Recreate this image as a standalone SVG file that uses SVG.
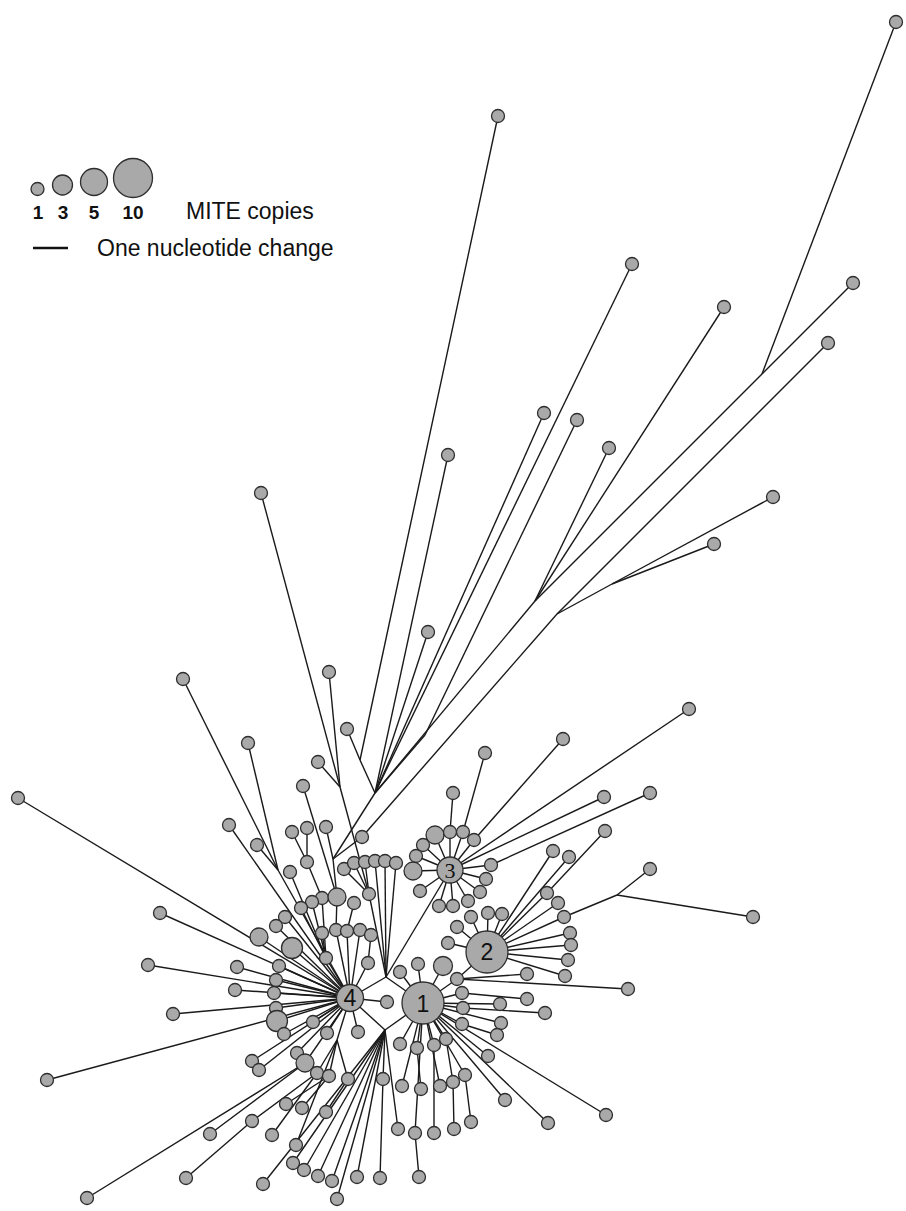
<svg xmlns="http://www.w3.org/2000/svg" width="906" height="1211" viewBox="0 0 906 1211">
<style>
.s{fill:#a9a9a9;stroke:#2e2e2e;stroke-width:1.3}
#connectors line{stroke:#1a1a1a;stroke-width:1.4}
.t{font-family:"Liberation Sans",Arial,sans-serif;fill:#111}
.hl{font-family:"Liberation Sans",Arial,sans-serif;font-size:23px;fill:#111;text-anchor:middle}
</style>
<rect width="906" height="1211" fill="#fff"/>
<g id="legend">
<circle class="s" cx="37.5" cy="189" r="6.5"/><circle class="s" cx="62.5" cy="185" r="10"/><circle class="s" cx="94" cy="182" r="13.5"/><circle class="s" cx="133" cy="178" r="19.5"/>
<text class="t" x="38" y="219" font-size="19" font-weight="bold" text-anchor="middle">1</text>
<text class="t" x="63" y="219" font-size="19" font-weight="bold" text-anchor="middle">3</text>
<text class="t" x="94" y="219" font-size="19" font-weight="bold" text-anchor="middle">5</text>
<text class="t" x="133" y="219" font-size="19" font-weight="bold" text-anchor="middle">10</text>
<text class="t" x="186" y="219" font-size="23">MITE copies</text>
<line x1="33" y1="248" x2="68" y2="248" stroke="#111" stroke-width="2.5"/>
<text class="t" x="97" y="256" font-size="23">One nucleotide change</text>
</g>
<g id="connectors">
<line x1="896" y1="22" x2="762" y2="374"/><line x1="853" y1="283" x2="762" y2="374"/><line x1="762" y1="374" x2="535" y2="601"/>
<line x1="724" y1="307" x2="535" y2="601"/><line x1="609" y1="448" x2="535" y2="601"/><line x1="535" y1="601" x2="375" y2="793"/>
<line x1="828" y1="343" x2="557" y2="614"/><line x1="773" y1="497" x2="612" y2="584"/><line x1="612" y1="584" x2="557" y2="614"/>
<line x1="714" y1="544" x2="612" y2="584"/><line x1="557" y1="614" x2="362" y2="837"/><line x1="362" y1="837" x2="333" y2="859"/>
<line x1="632" y1="264" x2="375" y2="793"/><line x1="544" y1="413" x2="375" y2="793"/><line x1="577" y1="420" x2="425" y2="735"/>
<line x1="425" y1="735" x2="375" y2="793"/><line x1="448" y1="455" x2="375" y2="793"/><line x1="428" y1="632" x2="375" y2="793"/>
<line x1="498" y1="116" x2="360" y2="760"/><line x1="347" y1="729" x2="360" y2="760"/><line x1="360" y1="760" x2="375" y2="793"/>
<line x1="375" y1="793" x2="333" y2="859"/>
<line x1="261" y1="493" x2="340" y2="787"/><line x1="329" y1="672" x2="340" y2="787"/><line x1="318" y1="762" x2="340" y2="787"/>
<line x1="340" y1="787" x2="369" y2="894"/><line x1="303" y1="786" x2="337" y2="897"/>
<line x1="183" y1="679" x2="278" y2="870"/><line x1="248" y1="743" x2="278" y2="870"/><line x1="257" y1="845" x2="278" y2="870"/>
<line x1="278" y1="870" x2="350" y2="998"/><line x1="18" y1="798" x2="350" y2="998"/><line x1="229" y1="825" x2="350" y2="998"/>
<line x1="292" y1="832" x2="307" y2="862"/><line x1="307" y1="828" x2="307" y2="862"/><line x1="326" y1="827" x2="333" y2="859"/>
<line x1="333" y1="859" x2="337" y2="897"/><line x1="307" y1="862" x2="322" y2="898"/><line x1="290" y1="872" x2="326" y2="958"/>
<line x1="344" y1="869" x2="369" y2="894"/><line x1="354" y1="863" x2="369" y2="894"/><line x1="365" y1="862" x2="369" y2="894"/>
<line x1="322" y1="898" x2="326" y2="958"/><line x1="312" y1="902" x2="326" y2="958"/><line x1="301" y1="908" x2="326" y2="958"/>
<line x1="369" y1="894" x2="386" y2="977"/><line x1="375" y1="861" x2="386" y2="977"/><line x1="385" y1="861" x2="386" y2="977"/><line x1="396" y1="863" x2="386" y2="977"/>
<line x1="337" y1="897" x2="336" y2="930"/><line x1="354" y1="903" x2="347" y2="931"/>
<line x1="336" y1="930" x2="350" y2="998"/><line x1="347" y1="931" x2="350" y2="998"/><line x1="360" y1="930" x2="350" y2="998"/>
<line x1="371" y1="935" x2="368" y2="963"/><line x1="368" y1="963" x2="350" y2="998"/><line x1="322" y1="933" x2="326" y2="958"/>
<line x1="326" y1="958" x2="350" y2="998"/><line x1="285" y1="917" x2="350" y2="998"/><line x1="276" y1="926" x2="350" y2="998"/>
<line x1="259" y1="937" x2="350" y2="998"/><line x1="292" y1="948" x2="350" y2="998"/><line x1="160" y1="913" x2="350" y2="998"/>
<line x1="148" y1="965" x2="350" y2="998"/><line x1="237" y1="967" x2="350" y2="998"/><line x1="279" y1="966" x2="350" y2="998"/>
<line x1="276" y1="980" x2="350" y2="998"/><line x1="235" y1="990" x2="350" y2="998"/><line x1="274" y1="993" x2="350" y2="998"/>
<line x1="276" y1="1008" x2="350" y2="998"/><line x1="173" y1="1014" x2="350" y2="998"/><line x1="277" y1="1021" x2="350" y2="998"/>
<line x1="284" y1="1034" x2="350" y2="998"/><line x1="313" y1="1022" x2="350" y2="998"/><line x1="327" y1="1033" x2="350" y2="998"/>
<line x1="358" y1="1032" x2="350" y2="998"/><line x1="47" y1="1080" x2="350" y2="998"/><line x1="252" y1="1061" x2="350" y2="998"/>
<line x1="259" y1="1070" x2="350" y2="998"/><line x1="297" y1="1053" x2="350" y2="998"/><line x1="305" y1="1063" x2="350" y2="998"/>
<line x1="337" y1="1040" x2="350" y2="998"/><line x1="317" y1="1073" x2="337" y2="1040"/><line x1="329" y1="1076" x2="337" y2="1040"/>
<line x1="348" y1="1079" x2="337" y2="1040"/><line x1="387" y1="1002" x2="350" y2="998"/>
<line x1="350" y1="998" x2="386" y2="977"/><line x1="386" y1="977" x2="423" y2="1003"/><line x1="350" y1="998" x2="385" y2="1030"/><line x1="385" y1="1030" x2="423" y2="1003"/>
<line x1="450" y1="870" x2="386" y2="977"/>
<line x1="87" y1="1198" x2="305" y2="1063"/><line x1="210" y1="1134" x2="305" y2="1063"/><line x1="252" y1="1121" x2="317" y2="1073"/>
<line x1="186" y1="1178" x2="252" y2="1121"/><line x1="272" y1="1135" x2="317" y2="1073"/><line x1="286" y1="1104" x2="329" y2="1076"/>
<line x1="302" y1="1108" x2="329" y2="1076"/><line x1="326" y1="1112" x2="348" y2="1079"/><line x1="296" y1="1145" x2="337" y2="1040"/>
<line x1="263" y1="1184" x2="385" y2="1030"/><line x1="293" y1="1163" x2="385" y2="1030"/><line x1="304" y1="1170" x2="385" y2="1030"/>
<line x1="318" y1="1176" x2="385" y2="1030"/><line x1="332" y1="1181" x2="385" y2="1030"/><line x1="337" y1="1199" x2="385" y2="1030"/>
<line x1="357" y1="1177" x2="385" y2="1030"/><line x1="383" y1="1079" x2="385" y2="1030"/><line x1="380" y1="1178" x2="383" y2="1079"/>
<line x1="398" y1="1129" x2="385" y2="1030"/>
<line x1="400" y1="972" x2="423" y2="1003"/><line x1="418" y1="964" x2="423" y2="1003"/><line x1="443" y1="966" x2="423" y2="1003"/>
<line x1="457" y1="979" x2="423" y2="1003"/><line x1="457" y1="979" x2="487" y2="952"/><line x1="462" y1="993" x2="423" y2="1003"/>
<line x1="463" y1="1008" x2="423" y2="1003"/><line x1="462" y1="1024" x2="423" y2="1003"/><line x1="400" y1="1044" x2="423" y2="1003"/>
<line x1="417" y1="1048" x2="423" y2="1003"/><line x1="434" y1="1045" x2="423" y2="1003"/><line x1="446" y1="1039" x2="423" y2="1003"/>
<line x1="402" y1="1086" x2="423" y2="1003"/><line x1="421" y1="1089" x2="417" y2="1048"/><line x1="440" y1="1086" x2="423" y2="1003"/>
<line x1="453" y1="1082" x2="446" y2="1039"/><line x1="465" y1="1075" x2="423" y2="1003"/><line x1="415" y1="1133" x2="423" y2="1003"/>
<line x1="419" y1="1177" x2="415" y2="1133"/><line x1="434" y1="1133" x2="434" y2="1045"/><line x1="454" y1="1129" x2="453" y2="1082"/>
<line x1="471" y1="1122" x2="465" y2="1075"/><line x1="488" y1="1056" x2="423" y2="1003"/><line x1="505" y1="1100" x2="423" y2="1003"/>
<line x1="548" y1="1123" x2="423" y2="1003"/><line x1="606" y1="1115" x2="423" y2="1003"/><line x1="500" y1="1004" x2="423" y2="1003"/>
<line x1="501" y1="1023" x2="423" y2="1003"/><line x1="497" y1="1035" x2="462" y2="1024"/><line x1="545" y1="1013" x2="463" y2="1008"/>
<line x1="527" y1="974" x2="457" y2="979"/><line x1="527" y1="999" x2="462" y2="993"/><line x1="628" y1="989" x2="457" y2="979"/>
<line x1="457" y1="927" x2="487" y2="952"/><line x1="448" y1="943" x2="487" y2="952"/><line x1="471" y1="917" x2="487" y2="952"/>
<line x1="488" y1="913" x2="487" y2="952"/><line x1="502" y1="914" x2="487" y2="952"/><line x1="553" y1="851" x2="487" y2="952"/>
<line x1="569" y1="857" x2="487" y2="952"/><line x1="547" y1="893" x2="487" y2="952"/><line x1="605" y1="831" x2="547" y2="893"/>
<line x1="558" y1="903" x2="487" y2="952"/><line x1="564" y1="917" x2="487" y2="952"/><line x1="564" y1="917" x2="617" y2="895"/>
<line x1="617" y1="895" x2="650" y2="869"/><line x1="617" y1="895" x2="753" y2="917"/><line x1="570" y1="933" x2="487" y2="952"/>
<line x1="571" y1="945" x2="487" y2="952"/><line x1="568" y1="960" x2="487" y2="952"/><line x1="565" y1="976" x2="487" y2="952"/>
<line x1="435" y1="835" x2="450" y2="870"/><line x1="450" y1="832" x2="450" y2="870"/><line x1="463" y1="832" x2="450" y2="870"/>
<line x1="474" y1="840" x2="450" y2="870"/><line x1="423" y1="845" x2="450" y2="870"/><line x1="416" y1="856" x2="450" y2="870"/>
<line x1="413" y1="871" x2="450" y2="870"/><line x1="420" y1="891" x2="450" y2="870"/><line x1="439" y1="906" x2="450" y2="870"/>
<line x1="453" y1="906" x2="450" y2="870"/><line x1="468" y1="901" x2="450" y2="870"/><line x1="480" y1="892" x2="450" y2="870"/>
<line x1="486" y1="879" x2="450" y2="870"/><line x1="491" y1="865" x2="450" y2="870"/><line x1="689" y1="709" x2="450" y2="870"/>
<line x1="604" y1="797" x2="450" y2="870"/><line x1="453" y1="793" x2="450" y2="832"/><line x1="485" y1="753" x2="463" y2="832"/>
<line x1="563" y1="739" x2="474" y2="840"/><line x1="650" y1="793" x2="491" y2="865"/>
</g>
<g id="n-top">
<g id="a1"><circle class="s" cx="896" cy="22" r="6.5"/></g>
<g id="a2"><circle class="s" cx="498" cy="116" r="6.5"/></g>
<g id="a3"><circle class="s" cx="632" cy="264" r="6.5"/></g>
<g id="a4"><circle class="s" cx="853" cy="283" r="6.5"/></g>
<g id="a5"><circle class="s" cx="724" cy="307" r="6.5"/></g>
<g id="a6"><circle class="s" cx="828" cy="343" r="6.5"/></g>
<g id="a7"><circle class="s" cx="544" cy="413" r="6.5"/></g>
<g id="a8"><circle class="s" cx="577" cy="420" r="6.5"/></g>
<g id="a9"><circle class="s" cx="448" cy="455" r="6.5"/></g>
<g id="a10"><circle class="s" cx="609" cy="448" r="6.5"/></g>
<g id="a11"><circle class="s" cx="261" cy="493" r="6.5"/></g>
<g id="a12"><circle class="s" cx="773" cy="497" r="6.5"/></g>
<g id="a13"><circle class="s" cx="714" cy="544" r="6.5"/></g>
<g id="a14"><circle class="s" cx="428" cy="632" r="6.5"/></g>
<g id="a15"><circle class="s" cx="183" cy="679" r="6.5"/></g>
<g id="a16"><circle class="s" cx="329" cy="672" r="6.5"/></g>
<g id="a17"><circle class="s" cx="347" cy="729" r="6.5"/></g>
<g id="a18"><circle class="s" cx="248" cy="743" r="6.5"/></g>
<g id="a19"><circle class="s" cx="318" cy="762" r="6.5"/></g>
<g id="a20"><circle class="s" cx="303" cy="786" r="6.5"/></g>
<g id="a21"><circle class="s" cx="18" cy="798" r="6.5"/></g>
<g id="a22"><circle class="s" cx="229" cy="825" r="6.5"/></g>
<g id="a23"><circle class="s" cx="257" cy="845" r="6.5"/></g>
<g id="a24"><circle class="s" cx="362" cy="837" r="6.5"/></g>
</g>
<g id="n-left">
<g id="b1"><circle class="s" cx="292" cy="832" r="6.5"/></g>
<g id="b2"><circle class="s" cx="307" cy="828" r="6.5"/></g>
<g id="b3"><circle class="s" cx="326" cy="827" r="6.5"/></g>
<g id="b4"><circle class="s" cx="307" cy="862" r="6.5"/></g>
<g id="b5"><circle class="s" cx="290" cy="872" r="6.5"/></g>
<g id="b6"><circle class="s" cx="344" cy="869" r="6.5"/></g>
<g id="b7"><circle class="s" cx="354" cy="863" r="6.5"/></g>
<g id="b8"><circle class="s" cx="365" cy="862" r="6.5"/></g>
<g id="b9"><circle class="s" cx="322" cy="898" r="6.5"/></g>
<g id="b10"><circle class="s" cx="312" cy="902" r="6.5"/></g>
<g id="b11"><circle class="s" cx="301" cy="908" r="6.5"/></g>
<g id="b12"><circle class="s" cx="369" cy="894" r="6.5"/></g>
<g id="b13"><circle class="s" cx="375" cy="861" r="6.5"/></g>
<g id="b14"><circle class="s" cx="385" cy="861" r="6.5"/></g>
<g id="b15"><circle class="s" cx="396" cy="863" r="6.5"/></g>
<g id="m1"><circle class="s" cx="337" cy="897" r="9"/></g>
<g id="b16"><circle class="s" cx="354" cy="903" r="6.5"/></g>
<g id="b17"><circle class="s" cx="336" cy="930" r="6.5"/></g>
<g id="b18"><circle class="s" cx="347" cy="931" r="6.5"/></g>
<g id="b19"><circle class="s" cx="360" cy="930" r="6.5"/></g>
<g id="b21"><circle class="s" cx="371" cy="935" r="6.5"/></g>
<g id="b22"><circle class="s" cx="368" cy="963" r="6.5"/></g>
<g id="b23"><circle class="s" cx="322" cy="933" r="6.5"/></g>
<g id="b20"><circle class="s" cx="326" cy="958" r="6.5"/></g>
<g id="b24"><circle class="s" cx="285" cy="917" r="6.5"/></g>
<g id="b25"><circle class="s" cx="276" cy="926" r="6.5"/></g>
<g id="m2"><circle class="s" cx="259" cy="937" r="9"/></g>
<g id="l1"><circle class="s" cx="292" cy="948" r="10.5"/></g>
<g id="b26"><circle class="s" cx="160" cy="913" r="6.5"/></g>
<g id="b27"><circle class="s" cx="148" cy="965" r="6.5"/></g>
<g id="b28"><circle class="s" cx="237" cy="967" r="6.5"/></g>
<g id="b29"><circle class="s" cx="279" cy="966" r="6.5"/></g>
<g id="b30"><circle class="s" cx="276" cy="980" r="6.5"/></g>
<g id="b31"><circle class="s" cx="235" cy="990" r="6.5"/></g>
<g id="b32"><circle class="s" cx="274" cy="993" r="6.5"/></g>
<g id="b33"><circle class="s" cx="276" cy="1008" r="6.5"/></g>
<g id="b34"><circle class="s" cx="173" cy="1014" r="6.5"/></g>
<g id="l2"><circle class="s" cx="277" cy="1021" r="10.5"/></g>
<g id="b35"><circle class="s" cx="284" cy="1034" r="6.5"/></g>
<g id="b36"><circle class="s" cx="313" cy="1022" r="6.5"/></g>
<g id="b37"><circle class="s" cx="327" cy="1033" r="6.5"/></g>
<g id="b38"><circle class="s" cx="358" cy="1032" r="6.5"/></g>
<g id="b39"><circle class="s" cx="47" cy="1080" r="6.5"/></g>
<g id="b40"><circle class="s" cx="252" cy="1061" r="6.5"/></g>
<g id="b41"><circle class="s" cx="259" cy="1070" r="6.5"/></g>
<g id="b42"><circle class="s" cx="297" cy="1053" r="6.5"/></g>
<g id="m3"><circle class="s" cx="305" cy="1063" r="9"/></g>
<g id="b43"><circle class="s" cx="317" cy="1073" r="6.5"/></g>
<g id="b44"><circle class="s" cx="329" cy="1076" r="6.5"/></g>
<g id="b45"><circle class="s" cx="348" cy="1079" r="6.5"/></g>
<g id="b46"><circle class="s" cx="387" cy="1002" r="6.5"/></g>
</g>
<g id="n-bottom">
<g id="c1"><circle class="s" cx="87" cy="1198" r="6.5"/></g>
<g id="c2"><circle class="s" cx="210" cy="1134" r="6.5"/></g>
<g id="c3"><circle class="s" cx="252" cy="1121" r="6.5"/></g>
<g id="c4"><circle class="s" cx="186" cy="1178" r="6.5"/></g>
<g id="c5"><circle class="s" cx="272" cy="1135" r="6.5"/></g>
<g id="c6"><circle class="s" cx="286" cy="1104" r="6.5"/></g>
<g id="c7"><circle class="s" cx="302" cy="1108" r="6.5"/></g>
<g id="c8"><circle class="s" cx="326" cy="1112" r="6.5"/></g>
<g id="c9"><circle class="s" cx="296" cy="1145" r="6.5"/></g>
<g id="c10"><circle class="s" cx="263" cy="1184" r="6.5"/></g>
<g id="c11"><circle class="s" cx="293" cy="1163" r="6.5"/></g>
<g id="c12"><circle class="s" cx="304" cy="1170" r="6.5"/></g>
<g id="c13"><circle class="s" cx="318" cy="1176" r="6.5"/></g>
<g id="c14"><circle class="s" cx="332" cy="1181" r="6.5"/></g>
<g id="c15"><circle class="s" cx="337" cy="1199" r="6.5"/></g>
<g id="c16"><circle class="s" cx="357" cy="1177" r="6.5"/></g>
<g id="c17"><circle class="s" cx="383" cy="1079" r="6.5"/></g>
<g id="c18"><circle class="s" cx="380" cy="1178" r="6.5"/></g>
<g id="c19"><circle class="s" cx="398" cy="1129" r="6.5"/></g>
</g>
<g id="n-hub1-ring">
<g id="d1"><circle class="s" cx="400" cy="972" r="6.5"/></g>
<g id="d2"><circle class="s" cx="418" cy="964" r="6.5"/></g>
<g id="m4"><circle class="s" cx="443" cy="966" r="9.5"/></g>
<g id="d3"><circle class="s" cx="457" cy="979" r="6.5"/></g>
<g id="d4"><circle class="s" cx="462" cy="993" r="6.5"/></g>
<g id="d5"><circle class="s" cx="463" cy="1008" r="6.5"/></g>
<g id="d6"><circle class="s" cx="462" cy="1024" r="6.5"/></g>
<g id="d7"><circle class="s" cx="400" cy="1044" r="6.5"/></g>
<g id="d8"><circle class="s" cx="417" cy="1048" r="6.5"/></g>
<g id="d9"><circle class="s" cx="434" cy="1045" r="6.5"/></g>
<g id="d10"><circle class="s" cx="446" cy="1039" r="6.5"/></g>
<g id="d11"><circle class="s" cx="402" cy="1086" r="6.5"/></g>
<g id="d12"><circle class="s" cx="421" cy="1089" r="6.5"/></g>
<g id="d13"><circle class="s" cx="440" cy="1086" r="6.5"/></g>
<g id="d14"><circle class="s" cx="453" cy="1082" r="6.5"/></g>
<g id="d15"><circle class="s" cx="465" cy="1075" r="6.5"/></g>
<g id="d16"><circle class="s" cx="415" cy="1133" r="6.5"/></g>
<g id="d17"><circle class="s" cx="419" cy="1177" r="6.5"/></g>
<g id="d18"><circle class="s" cx="434" cy="1133" r="6.5"/></g>
<g id="d19"><circle class="s" cx="454" cy="1129" r="6.5"/></g>
<g id="d20"><circle class="s" cx="471" cy="1122" r="6.5"/></g>
<g id="d21"><circle class="s" cx="488" cy="1056" r="6.5"/></g>
<g id="d22"><circle class="s" cx="505" cy="1100" r="6.5"/></g>
<g id="d23"><circle class="s" cx="548" cy="1123" r="6.5"/></g>
<g id="d24"><circle class="s" cx="606" cy="1115" r="6.5"/></g>
<g id="d25"><circle class="s" cx="500" cy="1004" r="6.5"/></g>
<g id="d26"><circle class="s" cx="501" cy="1023" r="6.5"/></g>
<g id="d27"><circle class="s" cx="497" cy="1035" r="6.5"/></g>
<g id="d28"><circle class="s" cx="545" cy="1013" r="6.5"/></g>
<g id="d29"><circle class="s" cx="527" cy="974" r="6.5"/></g>
<g id="d30"><circle class="s" cx="527" cy="999" r="6.5"/></g>
<g id="d31"><circle class="s" cx="628" cy="989" r="6.5"/></g>
</g>
<g id="n-hub2-ring">
<g id="e1"><circle class="s" cx="457" cy="927" r="6.5"/></g>
<g id="e2"><circle class="s" cx="448" cy="943" r="6.5"/></g>
<g id="e3"><circle class="s" cx="471" cy="917" r="6.5"/></g>
<g id="e4"><circle class="s" cx="488" cy="913" r="6.5"/></g>
<g id="e5"><circle class="s" cx="502" cy="914" r="6.5"/></g>
<g id="e6"><circle class="s" cx="553" cy="851" r="6.5"/></g>
<g id="e7"><circle class="s" cx="569" cy="857" r="6.5"/></g>
<g id="e8"><circle class="s" cx="547" cy="893" r="6.5"/></g>
<g id="e9"><circle class="s" cx="605" cy="831" r="6.5"/></g>
<g id="e10"><circle class="s" cx="558" cy="903" r="6.5"/></g>
<g id="e11"><circle class="s" cx="564" cy="917" r="6.5"/></g>
<g id="e12"><circle class="s" cx="650" cy="869" r="6.5"/></g>
<g id="e13"><circle class="s" cx="753" cy="917" r="6.5"/></g>
<g id="e14"><circle class="s" cx="570" cy="933" r="6.5"/></g>
<g id="e15"><circle class="s" cx="571" cy="945" r="6.5"/></g>
<g id="e16"><circle class="s" cx="568" cy="960" r="6.5"/></g>
<g id="e17"><circle class="s" cx="565" cy="976" r="6.5"/></g>
</g>
<g id="n-hub3-ring">
<g id="f1"><circle class="s" cx="453" cy="793" r="6.5"/></g>
<g id="m5"><circle class="s" cx="435" cy="835" r="9"/></g>
<g id="f3"><circle class="s" cx="450" cy="832" r="6.5"/></g>
<g id="f4"><circle class="s" cx="463" cy="832" r="6.5"/></g>
<g id="f5"><circle class="s" cx="474" cy="840" r="6.5"/></g>
<g id="f2"><circle class="s" cx="485" cy="753" r="6.5"/></g>
<g id="f6"><circle class="s" cx="563" cy="739" r="6.5"/></g>
<g id="f7"><circle class="s" cx="423" cy="845" r="6.5"/></g>
<g id="f8"><circle class="s" cx="416" cy="856" r="6.5"/></g>
<g id="m6"><circle class="s" cx="413" cy="871" r="9"/></g>
<g id="f9"><circle class="s" cx="420" cy="891" r="6.5"/></g>
<g id="f10"><circle class="s" cx="439" cy="906" r="6.5"/></g>
<g id="f11"><circle class="s" cx="453" cy="906" r="6.5"/></g>
<g id="f12"><circle class="s" cx="468" cy="901" r="6.5"/></g>
<g id="f13"><circle class="s" cx="480" cy="892" r="6.5"/></g>
<g id="f14"><circle class="s" cx="486" cy="879" r="6.5"/></g>
<g id="f15"><circle class="s" cx="491" cy="865" r="6.5"/></g>
<g id="f16"><circle class="s" cx="650" cy="793" r="6.5"/></g>
<g id="f17"><circle class="s" cx="689" cy="709" r="6.5"/></g>
<g id="f18"><circle class="s" cx="604" cy="797" r="6.5"/></g>
</g>
<g id="hub4"><circle class="s" cx="350" cy="998" r="13.5"/><text class="hl" x="350" y="1006" font-size="21">4</text></g>
<g id="hub1"><circle class="s" cx="423" cy="1003" r="21"/><text class="hl" x="423" y="1011.5">1</text></g>
<g id="hub2"><circle class="s" cx="487" cy="952" r="21"/><text class="hl" x="487" y="960">2</text></g>
<g id="hub3"><circle class="s" cx="450" cy="870" r="13"/><text x="450" y="878" font-family="Liberation Serif,serif" font-size="22" text-anchor="middle" fill="#111">3</text></g>
</svg>
